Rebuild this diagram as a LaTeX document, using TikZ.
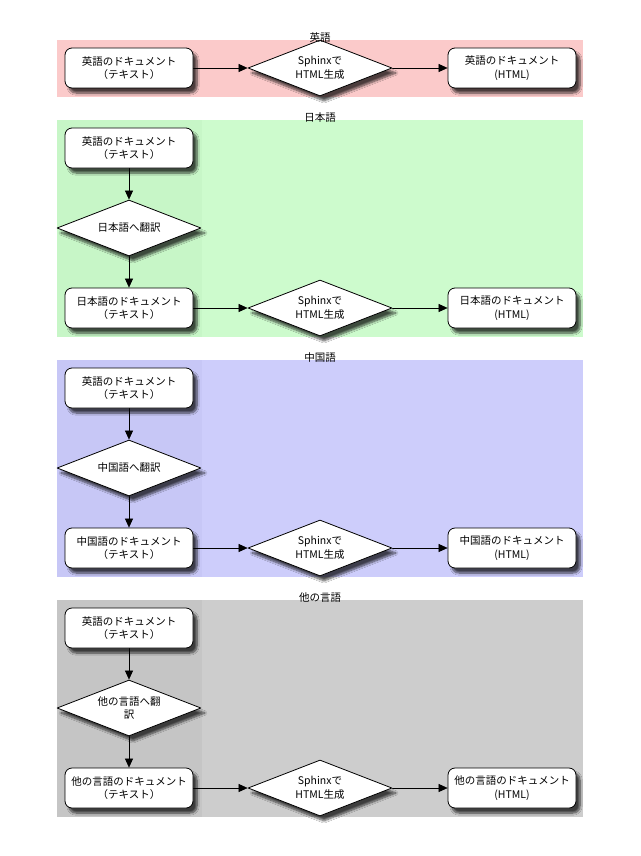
\documentclass[tikz,border=0pt]{standalone}
\usepackage{fontspec}
\setmainfont{Noto Sans CJK JP}
\usetikzlibrary{shapes.geometric,arrows.meta,shadows.blur}
\definecolor{grpen}{HTML}{FBCACA}
\definecolor{grpja}{HTML}{CDFBCD}
\definecolor{grpjadark}{HTML}{C7F6C7}
\definecolor{grpzh}{HTML}{CDCDFB}
\definecolor{grpzhdark}{HTML}{C7C7F6}
\definecolor{grpot}{HTML}{CDCDCD}
\definecolor{grpotdark}{HTML}{C5C5C5}
\begin{document}
\begin{tikzpicture}[x=1pt, y=-1pt, line cap=round, line join=round,
	doc/.style={draw, line width=0.8pt, rounded corners=7pt, fill=white, minimum width=128pt, minimum height=40pt, inner sep=1pt, align=center, font=\fontsize{10.5}{13.5}\selectfont, blur shadow={shadow xshift=4pt, shadow yshift=-5pt, shadow blur steps=8, shadow opacity=70}},
	act/.style={draw, line width=0.8pt, diamond, aspect=2.57, inner sep=0pt, fill=white, minimum width=144pt, minimum height=56pt, align=center, font=\fontsize{10.5}{13.5}\selectfont, blur shadow={shadow xshift=4pt, shadow yshift=-5pt, shadow blur steps=8, shadow opacity=70}},
	flow/.style={line width=0.6pt, -{Triangle[length=9pt,width=8pt]}},
	grplabel/.style={font=\fontsize{10.5}{13}\selectfont, inner sep=0pt}]
	\useasboundingbox (0,0) rectangle (640,856);
	\fill[white] (0,0) rectangle (640,856);
	% group backgrounds
	\fill[grpen] (57,40) rectangle (583,97);
	\fill[grpja] (57,120) rectangle (583,337);
	\fill[grpjadark] (57,120) rectangle (202,337);
	\fill[grpzh] (57,360) rectangle (583,577);
	\fill[grpzhdark] (57,360) rectangle (202,577);
	\fill[grpot] (57,600) rectangle (583,817);
	\fill[grpotdark] (57,600) rectangle (202,817);
	% english
	\node[doc] (en1) at (129,68) {英語のドキュメント\\（テキスト）};
	\node[act] (en2) at (320,68) {Sphinxで\\HTML生成};
	\node[doc] (en3) at (512,68) {英語のドキュメント\\(HTML)};
	\draw[flow] (en1) -- (en2);
	\draw[flow] (en2) -- (en3);
	% japanese
	\node[doc] (ja1) at (129,148) {英語のドキュメント\\（テキスト）};
	\node[act] (ja2) at (129,228) {日本語へ翻訳};
	\node[doc] (ja3) at (129,308) {日本語のドキュメント\\（テキスト）};
	\node[act] (ja4) at (320,308) {Sphinxで\\HTML生成};
	\node[doc] (ja5) at (512,308) {日本語のドキュメント\\(HTML)};
	\draw[flow] (ja1) -- (ja2);
	\draw[flow] (ja2) -- (ja3);
	\draw[flow] (ja3) -- (ja4);
	\draw[flow] (ja4) -- (ja5);
	% chinese
	\node[doc] (zh1) at (129,388) {英語のドキュメント\\（テキスト）};
	\node[act] (zh2) at (129,468) {中国語へ翻訳};
	\node[doc] (zh3) at (129,548) {中国語のドキュメント\\（テキスト）};
	\node[act] (zh4) at (320,548) {Sphinxで\\HTML生成};
	\node[doc] (zh5) at (512,548) {中国語のドキュメント\\(HTML)};
	\draw[flow] (zh1) -- (zh2);
	\draw[flow] (zh2) -- (zh3);
	\draw[flow] (zh3) -- (zh4);
	\draw[flow] (zh4) -- (zh5);
	% other languages
	\node[doc] (ot1) at (129,628) {英語のドキュメント\\（テキスト）};
	\node[act] (ot2) at (129,708) {他の言語へ翻\\訳};
	\node[doc] (ot3) at (129,788) {他の言語のドキュメント\\（テキスト）};
	\node[act] (ot4) at (320,788) {Sphinxで\\HTML生成};
	\node[doc] (ot5) at (512,788) {他の言語のドキュメント\\(HTML)};
	\draw[flow] (ot1) -- (ot2);
	\draw[flow] (ot2) -- (ot3);
	\draw[flow] (ot3) -- (ot4);
	\draw[flow] (ot4) -- (ot5);
	% group labels
	\node[grplabel] (enlabel) at (320,38) {英語};
	\node[grplabel] (jalabel) at (320,118) {日本語};
	\node[grplabel] (zhlabel) at (320,358) {中国語};
	\node[grplabel] (otlabel) at (320,598) {他の言語};
\end{tikzpicture}
\end{document}
